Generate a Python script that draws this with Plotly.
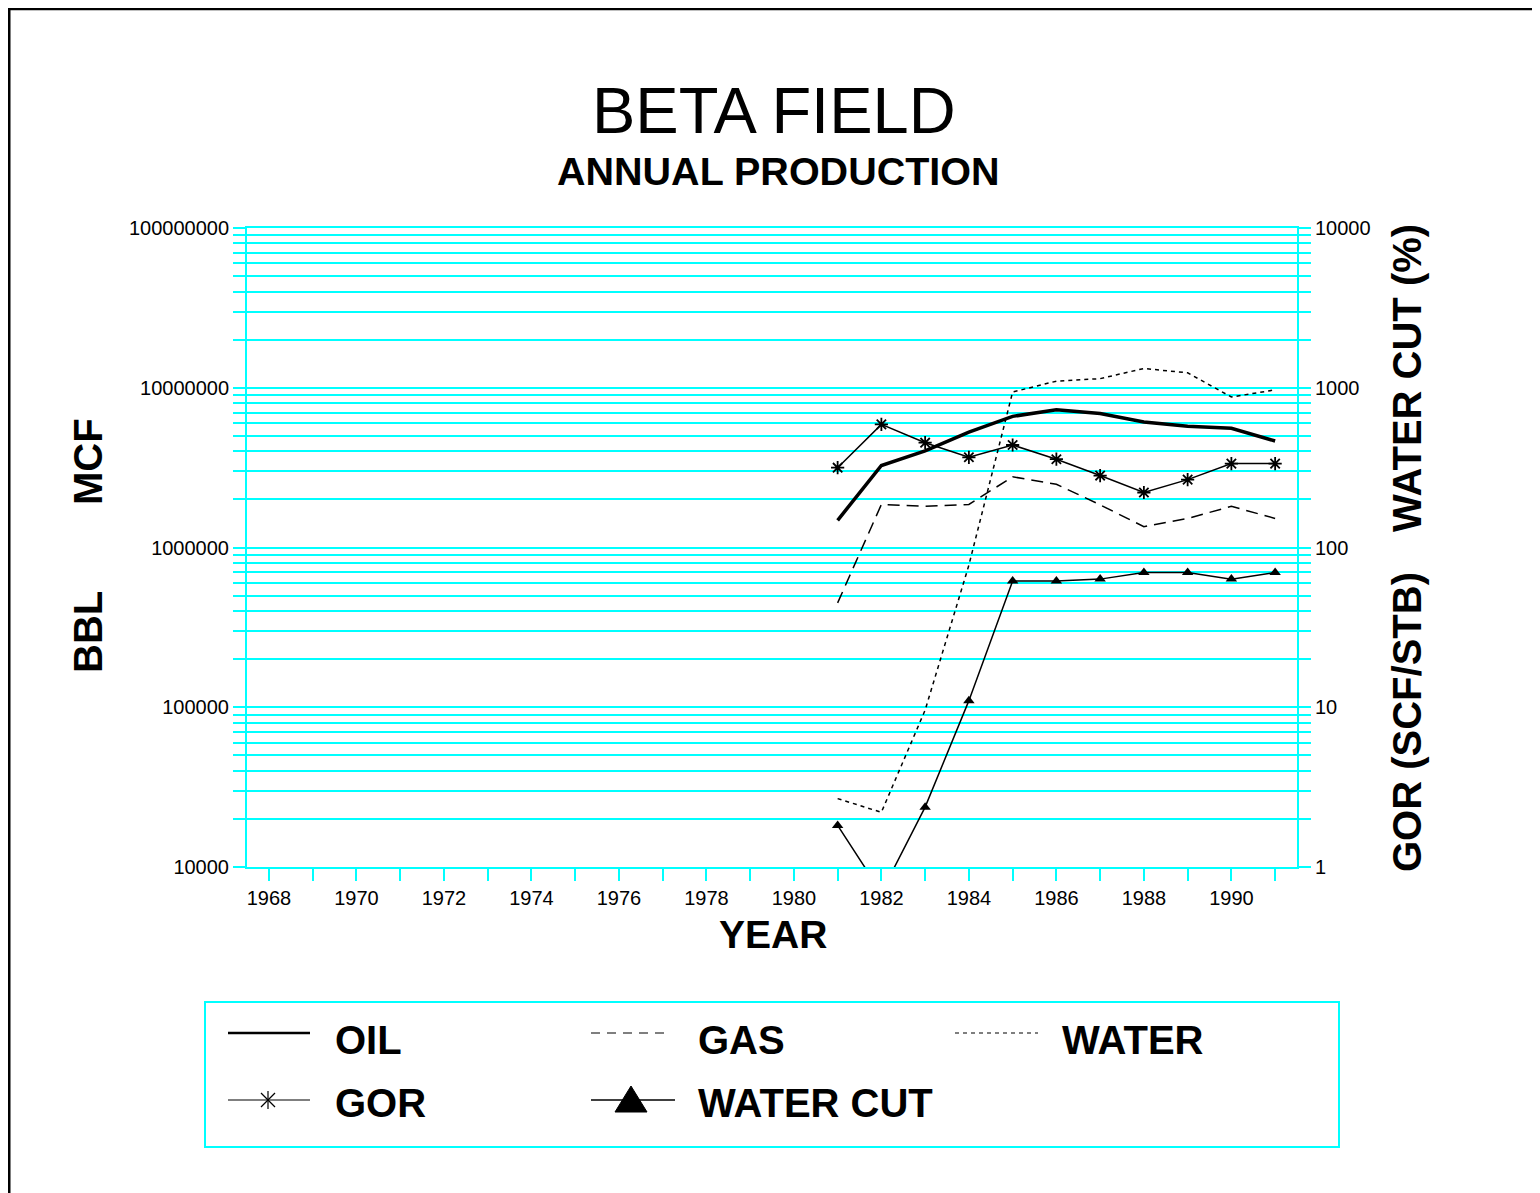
import plotly.graph_objects as go

# ---------------- data ----------------
years = [1981, 1982, 1983, 1984, 1985, 1986, 1987, 1988, 1989, 1990, 1991]
oil_bbl = [1.48e6, 3.26e6, 4.02e6, 5.28e6, 6.62e6, 7.29e6, 6.89e6, 6.10e6, 5.74e6, 5.57e6, 4.64e6]
gas_mcf = [4.5e5, 1.86e6, 1.81e6, 1.86e6, 2.77e6, 2.49e6, 1.85e6, 1.35e6, 1.52e6, 1.81e6, 1.52e6]
water_bbl = [2.68e4, 2.20e4, 9.6e4, 7.75e5, 9.4e6, 1.10e7, 1.14e7, 1.32e7, 1.24e7, 8.75e6, 9.7e6]
gor_scf_stb = [316, 590, 453, 367, 438, 357, 282, 221, 266, 335, 335]
water_cut_pct = [1.82, 0.69, 2.37, 11.0, 61.8, 61.8, 63.4, 69.7, 69.7, 63.4, 69.7]

left_tick_vals = [1e4, 1e5, 1e6, 1e7, 1e8]
left_tick_text = ["10000", "100000", "1000000", "10000000", "100000000"]
right_tick_vals = [1, 10, 100, 1000, 10000]
right_tick_text = ["1", "10", "100", "1000", "10000"]

# ---------------- layout geometry (page pixels) ----------------
OFF = 8                      # page body margin
W, H = 1540 - OFF, 1193 - OFF
L, R, T, B = 247, 1297, 228, 867
PW, PH = R - L, B - T
CYAN = "#00FFFF"
FONT = "Liberation Sans, Arial, sans-serif"


def px(x):
    return (x - L) / PW


def py(y):
    return (B - y) / PH


fig = go.Figure()

fig.add_trace(go.Scatter(x=years, y=oil_bbl, mode="lines", name="OIL",
                         line=dict(color="black", width=3.5)))
fig.add_trace(go.Scatter(x=years, y=gas_mcf, mode="lines", name="GAS",
                         line=dict(color="black", width=1.5, dash="12px,7px")))
fig.add_trace(go.Scatter(x=years, y=water_bbl, mode="lines", name="WATER",
                         line=dict(color="black", width=1.5, dash="4px,4px")))
fig.add_trace(go.Scatter(x=years, y=gor_scf_stb, mode="lines+markers", name="GOR", yaxis="y2",
                         line=dict(color="black", width=1.5),
                         marker=dict(symbol="asterisk-open", size=11,
                                     line=dict(color="black", width=1.8))))
fig.add_trace(go.Scatter(x=years, y=water_cut_pct, mode="lines+markers", name="WATER CUT", yaxis="y2",
                         line=dict(color="black", width=1.5),
                         marker=dict(symbol="triangle-up", size=10, color="black")))

minor_y = dict(dtick="D1", ticks="outside", ticklen=12, tickcolor=CYAN, tickwidth=2,
               showgrid=True, gridcolor=CYAN, gridwidth=2)

fig.update_layout(
    width=W, height=H,
    margin=dict(l=L - OFF, r=W - (R - OFF), t=T - OFF, b=H - (B - OFF), pad=0),
    paper_bgcolor="white", plot_bgcolor="white",
    showlegend=False,
    font=dict(family=FONT, color="black", size=20),
    xaxis=dict(range=[1967.5, 1991.5], tickmode="linear", tick0=1968, dtick=2,
               ticks="outside", ticklen=12, tickwidth=2, tickcolor=CYAN,
               minor=dict(dtick=1, ticks="outside", ticklen=12, tickwidth=2, tickcolor=CYAN),
               showgrid=False, zeroline=False, showline=True, linecolor=CYAN, linewidth=2,
               mirror=True, tickfont=dict(size=20, color="black"), automargin=False),
    yaxis=dict(type="log", range=[4, 8], tickmode="array", tickvals=left_tick_vals,
               ticktext=left_tick_text, ticks="outside", ticklen=12, tickwidth=2,
               tickcolor=CYAN, showgrid=True, gridcolor=CYAN, gridwidth=2,
               minor=minor_y, showline=True, linecolor=CYAN, linewidth=2,
               zeroline=False, tickfont=dict(size=20, color="black"), automargin=False),
    yaxis2=dict(type="log", range=[0, 4], overlaying="y", side="right",
                tickmode="array", tickvals=right_tick_vals, ticktext=right_tick_text,
                ticks="outside", ticklen=12, tickwidth=2, tickcolor=CYAN,
                showgrid=False,
                minor=dict(dtick="D1", ticks="outside", ticklen=12, tickcolor=CYAN,
                           tickwidth=2, showgrid=False),
                showline=True, linecolor=CYAN, linewidth=2, zeroline=False,
                tickfont=dict(size=20, color="black"), automargin=False),
)

ann = []


def text(x, y, s, size, angle=0, anchor="center"):
    ann.append(dict(x=px(x), y=py(y), xref="paper", yref="paper", text=s,
                    showarrow=False, textangle=angle, xanchor=anchor, yanchor="middle",
                    font=dict(family=FONT, size=size, color="black")))


text(774, 110, "BETA FIELD", 65)
text(778, 171, "<b>ANNUAL PRODUCTION</b>", 39.5)
text(773, 934, "<b>YEAR</b>", 39)
text(88, 462, "<b>MCF</b>", 40, -90)
text(88, 632, "<b>BBL</b>", 40, -90)
text(1407, 378, "<b>WATER CUT (%)</b>", 40, -90)
text(1407, 722, "<b>GOR (SCF/STB)</b>", 40, -90)

# legend texts
text(333, 1040, "<b>OIL</b>", 40, anchor="left")
text(696, 1040, "<b>GAS</b>", 40, anchor="left")
text(1060, 1040, "<b>WATER</b>", 40, anchor="left")
text(333, 1103, "<b>GOR</b>", 40, anchor="left")
text(696, 1103, "<b>WATER CUT</b>", 40, anchor="left")

shapes = []


def seg(x0, y0, x1, y1, width=1.5, color="black", dash="solid"):
    shapes.append(dict(type="line", xref="paper", yref="paper",
                       x0=px(x0), y0=py(y0), x1=px(x1), y1=py(y1),
                       line=dict(color=color, width=width, dash=dash)))


# outer frame
shapes.append(dict(type="rect", xref="paper", yref="paper",
                   x0=px(9.2), y0=py(1230), x1=px(1580), y1=py(9.0),
                   line=dict(color="black", width=2.6)))
# legend box
shapes.append(dict(type="rect", xref="paper", yref="paper",
                   x0=px(205), y0=py(1147), x1=px(1339), y1=py(1002),
                   line=dict(color=CYAN, width=2)))
# legend samples
seg(228, 1033, 310, 1033, 2.5)
seg(591, 1033, 668, 1033, 1.2, dash="9px,7px")
seg(955, 1033, 1038, 1033, 1.2, dash="4px,4px")
seg(228, 1100, 310, 1100, 1.2)
seg(268, 1091, 268, 1109, 1.2)
seg(261, 1093, 275, 1107, 1.2)
seg(261, 1107, 275, 1093, 1.2)
seg(591, 1100, 675, 1100, 1.5)
tri = "M {},{} L {},{} L {},{} Z".format(px(631), py(1086), px(615), py(1112), px(647), py(1112))
shapes.append(dict(type="path", xref="paper", yref="paper", path=tri,
                   fillcolor="black", line=dict(color="black", width=1)))

fig.update_layout(annotations=ann, shapes=shapes)

fig.write_html("out.html")
